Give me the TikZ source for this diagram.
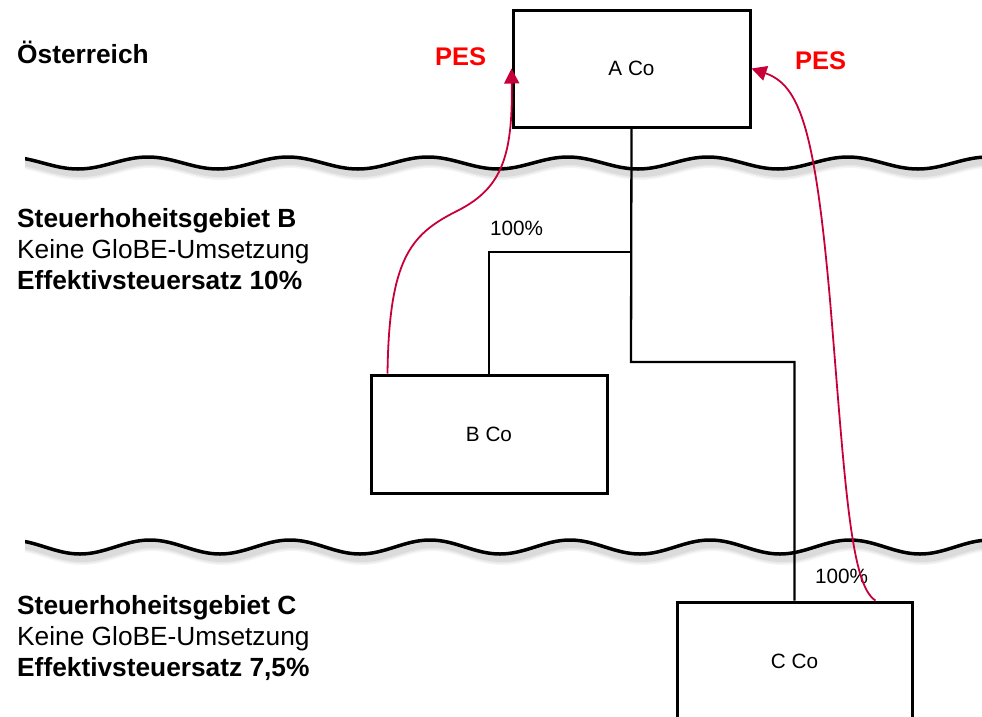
\documentclass[tikz,border=0pt]{standalone}
\usepackage{fontspec}
\setmainfont{Liberation Sans}
\usetikzlibrary{arrows.meta}
\definecolor{pesred}{RGB}{255,0,0}
\definecolor{curvecol}{RGB}{200,0,58}
\begin{document}
\begin{tikzpicture}[x=1pt,y=-1pt,
  box/.style={draw, line width=3pt, minimum width=236pt, minimum height=118pt, inner sep=0pt, font=\fontsize{20.7}{25}\selectfont},
  link/.style={line width=2.3pt},
  pesarrow/.style={curvecol, line width=1.8pt, -{Triangle[length=15pt,width=15pt]}},
  head/.style={anchor=base west, inner sep=0pt, font=\fontsize{26.3}{31}\selectfont\bfseries},
  plain/.style={anchor=base west, inner sep=0pt, font=\fontsize{26.3}{31}\selectfont},
  peslabel/.style={anchor=base west, inner sep=0pt, text=pesred, font=\fontsize{25.5}{30}\selectfont\bfseries},
  pct/.style={anchor=base west, inner sep=0pt, font=\fontsize{20.7}{25}\selectfont},
  wave/.style={line width=3.5pt},
  waveshadow/.style={line width=12pt, black, opacity=0.05},
]
\useasboundingbox (0,0) rectangle (982,716);
\clip (0,0) rectangle (982,716);

% wavy borders with soft shadows
\begin{scope}
\clip (25,0) rectangle (982,716);
\foreach \w/\o in {12/0.04, 9/0.05, 6/0.06} {
  \draw[waveshadow, line width=\w pt, opacity=\o] (10,162) foreach \k in {0,...,6} { cos ++(35,6) sin ++(35,6) cos ++(35,-6) sin ++(35,-6) };
  \draw[waveshadow, line width=\w pt, opacity=\o] (12,545) foreach \k in {0,...,6} { cos ++(35,7) sin ++(35,7) cos ++(35,-7) sin ++(35,-7) };
}
\draw[wave] (8,157) foreach \k in {0,...,6} { cos ++(35,6) sin ++(35,6) cos ++(35,-6) sin ++(35,-6) };
\draw[wave] (10,540) foreach \k in {0,...,6} { cos ++(35,7) sin ++(35,7) cos ++(35,-7) sin ++(35,-7) };
\end{scope}

% boxes
\node[box, minimum width=237pt, minimum height=117pt] (A) at (631.5,68.5) {A Co};
\node[box] (B) at (489,434) {B Co};
\node[box, minimum width=235pt] (C) at (794.5,661) {C Co};

% ownership connectors
\coordinate (j1) at (631,252);
\coordinate (j2) at (631,362);
\draw[link] (A.south) -- (j2) -| (C.north);
\draw[link] (j1) -| (B.north);

% labels
\node[pct] (p1) at (490,235) {100\%};
\node[pct] (p2) at (815,583) {100\%};

\node[head] (at) at (17,63) {Österreich};
\node[head] (b1) at (17,227) {Steuerhoheitsgebiet B};
\node[plain] (b2) at (17,258) {Keine GloBE-Umsetzung};
\node[head] (b3) at (17,289) {Effektivsteuersatz 10\%};
\node[head] (c1) at (17,614) {Steuerhoheitsgebiet C};
\node[plain] (c2) at (17,645) {Keine GloBE-Umsetzung};
\node[head] (c3) at (17,676) {Effektivsteuersatz 7,5\%};

\node[peslabel] (pes1) at (435,65) {PES};
\node[peslabel] (pes2) at (795,69) {PES};

% PES arrows
\coordinate (bs) at ([xshift=18pt]B.north west);
\coordinate (cs) at ([xshift=-38pt]C.north east);
\draw[pesarrow] (bs) .. controls (389,260) and (410,235) .. (455,212)
   .. controls (500,190) and (513,160) .. (A.west);
\draw[pesarrow] (cs) .. controls (850,585) and (845,480) .. (830,300)
   .. controls (815,130) and (800,85) .. (A.east);
\end{tikzpicture}
\end{document}
